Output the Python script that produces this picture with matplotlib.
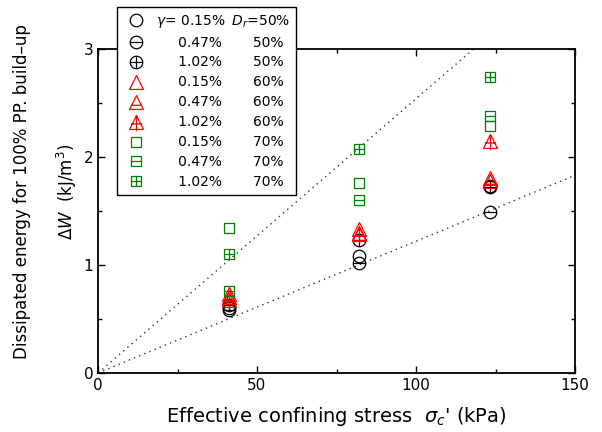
import numpy as np
import matplotlib
matplotlib.use("Agg")
import matplotlib.pyplot as plt
from matplotlib.path import Path
from matplotlib.ticker import MultipleLocator

# confining stress (kPa)
sigma = [41.3, 82.2, 123.3]

# dissipated energy dW (kJ/m3), one list per test series
dr50_g015 = [0.60, 1.08, 1.73]
dr50_g047 = [0.58, 1.02, 1.49]
dr50_g102 = [0.63, 1.23, 1.72]
dr60_g015 = [0.73, 1.33, 1.81]
dr60_g047 = [0.70, 1.30, 1.78]
dr60_g102 = [0.68, 1.29, 2.15]
dr70_g015 = [1.34, 1.76, 2.29]
dr70_g047 = [0.76, 1.60, 2.38]
dr70_g102 = [1.10, 2.07, 2.74]

gamma_labels = ["0.15%", "0.47%", "1.02%"] * 3
dr_labels = ["50%"] * 3 + ["60%"] * 3 + ["70%"] * 3

# reference lines through origin
slope_upper = 0.0254
slope_lower = 0.0122

M, L = Path.MOVETO, Path.LINETO


def compound(*paths):
    return Path.make_compound_path(*paths)


circ = Path.unit_circle()
hline = Path([[-1, 0], [1, 0]], [M, L])
vline = Path([[0, -1], [0, 1]], [M, L])
tri = Path([[0, 1], [-1, -1], [1, -1], [0, 1]], [M, L, L, L])
tri_h = Path([[-0.7, -0.4], [0.7, -0.4]], [M, L])
tri_ch = Path([[-0.8, -0.2], [0.8, -0.2]], [M, L])
tri_cv = Path([[0, 1], [0, -1.25]], [M, L])
sq = Path([[-1, -1], [1, -1], [1, 1], [-1, 1], [-1, -1]], [M, L, L, L, L])

markers = [
    (circ, 9),
    (compound(circ, hline), 9),
    (compound(circ, hline, vline), 9),
    (tri, 10),
    (compound(tri, tri_h), 10),
    (compound(tri, tri_ch, tri_cv), 12.5),
    (sq, 7.5),
    (compound(sq, hline), 7.5),
    (compound(sq, hline, vline), 7.5),
]
colors = ["black"] * 3 + ["red"] * 3 + ["#008000"] * 3
series = [dr50_g015, dr50_g047, dr50_g102, dr60_g015, dr60_g047,
          dr60_g102, dr70_g015, dr70_g047, dr70_g102]

plt.rcParams["font.family"] = "DejaVu Sans"

fig = plt.figure(figsize=(6.02, 4.32), dpi=100)
ax = fig.add_axes([98 / 602, 1 - 373 / 432, 477 / 602, 324 / 432])

xs = np.array([0, 150])
ax.plot(xs, slope_upper * xs, linestyle=(0, (1, 3)), color="#333333", lw=1)
ax.plot(xs, slope_lower * xs, linestyle=(0, (1, 3)), color="#333333", lw=1)

handles = []
for ys, (mk, ms), c in zip(series, markers, colors):
    h, = ax.plot(sigma, ys, linestyle="none", marker=mk, markersize=ms,
                 markerfacecolor="none", markeredgecolor=c, markeredgewidth=0.9)
    handles.append(h)

labels = []
for i, (g, d) in enumerate(zip(gamma_labels, dr_labels)):
    if i == 0:
        labels.append(r"$\gamma$= " + g + "\u2009" + r" $D_r$=" + d)
    else:
        labels.append("\u2007\u2007 " + g + "\u2007\u2007\u2007 " + d)

leg = fig.legend(handles, labels, loc="upper left",
                 bbox_to_anchor=(117 / 602, 1 - 7 / 432), borderaxespad=0,
                 fontsize=10, frameon=True, fancybox=False, framealpha=1,
                 edgecolor="black", handlelength=1.9, handletextpad=0.5,
                 labelspacing=0.43, borderpad=0.4)
leg.get_frame().set_linewidth(1.0)

ax.set_xlim(0, 150)
ax.set_ylim(0, 3)
ax.xaxis.set_major_locator(MultipleLocator(50))
ax.xaxis.set_minor_locator(MultipleLocator(25))
ax.yaxis.set_major_locator(MultipleLocator(1))
ax.yaxis.set_minor_locator(MultipleLocator(0.5))
ax.tick_params(which="both", direction="in", top=True, right=True, labelsize=11)
ax.tick_params(which="major", length=5, width=1)
ax.tick_params(which="minor", length=3, width=1)
for s in ax.spines.values():
    s.set_linewidth(1.3)

ax.set_xlabel(r"Effective confining stress  $\sigma_c$' (kPa)", fontsize=14,
              labelpad=9)
ax.set_ylabel("Dissipated energy for 100% PP. build\u2013up\n"
              r"$\mathit{\Delta W}$  (kJ/m$^3$)", fontsize=12, linespacing=2.3)
ax.yaxis.set_label_coords(-0.04, 0.56)

fig.savefig("out.png", dpi=100)
